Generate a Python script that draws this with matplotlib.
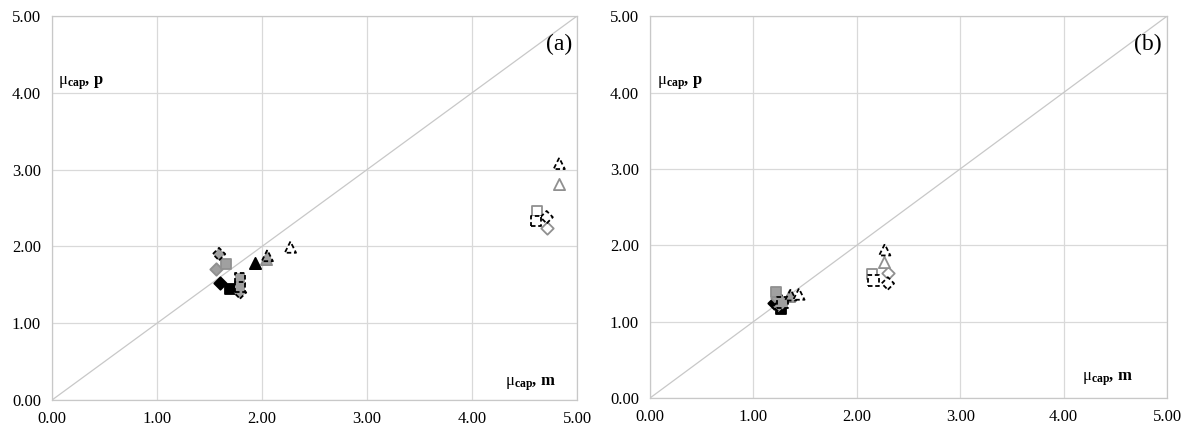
import matplotlib
matplotlib.use('Agg')
import matplotlib.pyplot as plt

plt.rcParams['font.family'] = 'Liberation Serif'
plt.rcParams['mathtext.fontset'] = 'custom'
plt.rcParams['mathtext.rm'] = 'Liberation Serif'
plt.rcParams['mathtext.bf'] = 'Liberation Serif:bold'
plt.rcParams['mathtext.it'] = 'Liberation Serif:italic'

ticks = [0, 1, 2, 3, 4, 5]
tick_labels = ['0.00', '1.00', '2.00', '3.00', '4.00', '5.00']

# series names -> (marker, style)
series = ['black_D', 'black_s', 'black_t',
          'gray_D', 'gray_s', 'gray_t',
          'graydash_D', 'graydash_s', 'graydash_t',
          'open_D', 'open_s', 'open_t',
          'dash_D', 'dash_s', 'dash_t']

# panel (a): mu_cap measured vs predicted
a_x = {'black_D': [1.60], 'black_s': [1.69], 'black_t': [1.93],
       'gray_D': [1.56], 'gray_s': [1.66], 'gray_t': [2.04],
       'graydash_D': [1.59, 1.79], 'graydash_s': [1.79, 1.79], 'graydash_t': [2.05],
       'open_D': [4.71], 'open_s': [4.62], 'open_t': [4.83],
       'dash_D': [4.71], 'dash_s': [4.61], 'dash_t': [4.83, 2.27]}
a_y = {'black_D': [1.52], 'black_s': [1.44], 'black_t': [1.79],
       'gray_D': [1.71], 'gray_s': [1.77], 'gray_t': [1.84],
       'graydash_D': [1.90, 1.40], 'graydash_s': [1.58, 1.47], 'graydash_t': [1.88],
       'open_D': [2.24], 'open_s': [2.46], 'open_t': [2.81],
       'dash_D': [2.38], 'dash_s': [2.33], 'dash_t': [3.08, 1.99]}

# panel (b)
b_x = {'black_D': [1.20], 'black_s': [1.27], 'black_t': [1.27],
       'gray_D': [1.23], 'gray_s': [1.22], 'gray_t': [1.34],
       'graydash_D': [1.25], 'graydash_s': [1.28], 'graydash_t': [1.36],
       'open_D': [2.30], 'open_s': [2.15], 'open_t': [2.26],
       'dash_D': [2.30], 'dash_s': [2.16], 'dash_t': [2.27, 1.44]}
b_y = {'black_D': [1.24], 'black_s': [1.17], 'black_t': [1.28],
       'gray_D': [1.31], 'gray_s': [1.39], 'gray_t': [1.34],
       'graydash_D': [1.20], 'graydash_s': [1.25], 'graydash_t': [1.35],
       'open_D': [1.64], 'open_s': [1.62], 'open_t': [1.78],
       'dash_D': [1.50], 'dash_s': [1.54], 'dash_t': [1.94, 1.36]}

markers = {'D': 'D', 's': 's', 't': '^'}
styles = {
    'black': dict(facecolor='black', edgecolor='black', ls='-'),
    'gray': dict(facecolor='#a0a0a0', edgecolor='#909090', ls='-'),
    'graydash': dict(facecolor='#a0a0a0', edgecolor='black', ls='--'),
    'open': dict(facecolor='white', edgecolor='#909090', ls='-'),
    'dash': dict(facecolor='white', edgecolor='black', ls='--'),
}
sizes = {'D': 40, 's': 60, 't': 65}


def draw_panel(ax, xs, ys, label, plab, mlab):
    ax.set_xlim(0, 5)
    ax.set_ylim(0, 5)
    ax.set_xticks(ticks)
    ax.set_xticklabels(tick_labels)
    ax.set_yticks(ticks)
    ax.set_yticklabels(tick_labels)
    ax.tick_params(length=0, labelsize=12, pad=8)
    ax.grid(True, color='#d9d9d9', lw=0.9)
    ax.set_axisbelow(True)
    for sp in ax.spines.values():
        sp.set_color('#c8c8c8')
        sp.set_linewidth(0.9)
    ax.plot([0, 5], [0, 5], color='#c8c8c8', lw=0.9, zorder=1)
    for name in series:
        kind, m = name.rsplit('_', 1)
        st = styles[kind]
        ls = (0, (2.5, 1.5)) if st['ls'] == '--' else 'solid'
        ax.scatter(xs[name], ys[name], marker=markers[m], s=sizes[m],
                   facecolor=st['facecolor'], edgecolor=st['edgecolor'],
                   linewidths=1.3, linestyles=ls, zorder=3)
    ax.text(4.95, 4.63, label, fontsize=17, ha='right', va='center')
    ax.text(plab[0], plab[1], r'$\mathrm{\mu}_{\mathbf{cap}}$, p',
            fontsize=12, fontweight='bold', va='center')
    ax.text(mlab[0], mlab[1], r'$\mathrm{\mu}_{\mathbf{cap}}$, m',
            fontsize=12, fontweight='bold', va='center')


fig = plt.figure(figsize=(11.94, 4.30), dpi=100)
ax1 = fig.add_axes([0.0436, 0.0698, 0.4397, 0.893])
ax2 = fig.add_axes([0.5444, 0.0744, 0.4330, 0.888])
draw_panel(ax1, a_x, a_y, '(a)', (0.06, 4.13), (4.31, 0.20))
draw_panel(ax2, b_x, b_y, '(b)', (0.07, 4.12), (4.18, 0.24))

fig.savefig('out.png', dpi=100)
